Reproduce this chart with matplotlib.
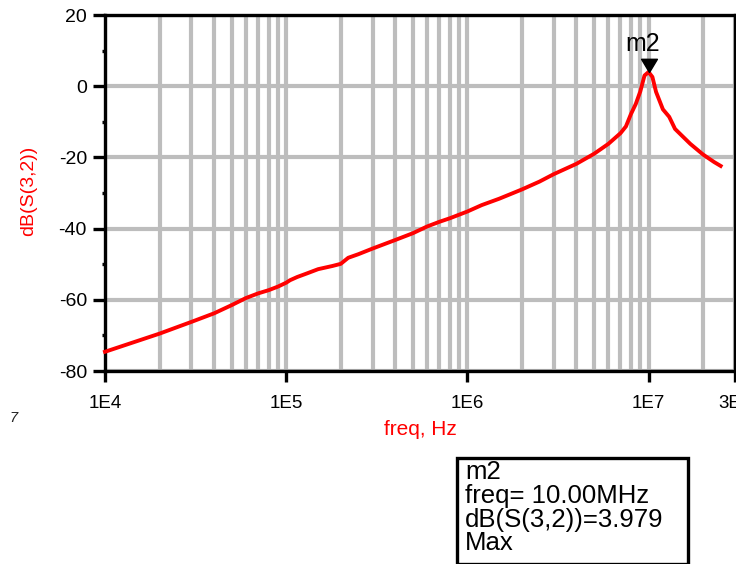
import matplotlib
matplotlib.use("Agg")
import matplotlib.pyplot as plt
from matplotlib.ticker import FixedLocator, LogLocator, NullFormatter, MultipleLocator
from matplotlib.patches import Rectangle
from matplotlib.path import Path

plt.rcParams['font.family'] = ['Liberation Sans', 'DejaVu Sans']
plt.rcParams['axes.unicode_minus'] = False

# S(3,2) magnitude sweep
freq_hz = [1e4, 2e4, 3e4, 4e4, 5e4, 6e4, 7e4, 8e4, 9e4, 1e5, 1.05e5, 1.15e5,
           1.3e5, 1.5e5, 1.8e5, 2e5, 2.2e5, 2.5e5, 3e5, 4e5, 5e5, 6e5, 7e5,
           8e5, 1e6, 1.2e6, 1.5e6, 2e6, 2.5e6, 3e6, 4e6, 5e6, 6e6, 7e6,
           7.5e6, 8e6, 8.5e6, 9e6, 9.5e6, 1e7, 1.05e7, 1.1e7, 1.2e7, 1.3e7,
           1.4e7, 1.5e7, 1.7e7, 2e7, 2.3e7, 2.5e7]
s32_db = [-74.6, -69.5, -66.2, -63.8, -61.5, -59.5, -58.2, -57.3, -56.3, -55.2,
          -54.5, -53.6, -52.6, -51.4, -50.5, -49.9, -48.2, -47.2, -45.6, -43.2,
          -41.3, -39.4, -38.1, -37.1, -35.2, -33.4, -31.6, -29.0, -26.8, -24.7,
          -21.8, -19.0, -16.2, -13.2, -11.3, -7.8, -5.0, -1.5, 3.0, 3.979,
          2.6, -1.6, -6.5, -8.6, -12.0, -13.5, -16.2, -19.2, -21.3, -22.4]

x_ticks = [1e4, 1e5, 1e6, 1e7, 3e7]
x_ticklabels = ["1E4", "1E5", "1E6", "1E7", "3E7"]
y_ticks = [-80, -60, -40, -20, 0, 20]

marker_name = "m2"
marker_freq = 1e7
marker_db = 3.979
marker_lines = ["m2", "freq= 10.00MHz", "dB(S(3,2))=3.979", "Max"]

W, H = 736, 564
fig = plt.figure(figsize=(W / 100, H / 100), dpi=100)
ax = fig.add_axes([105 / W, (H - 371) / H, (735 - 105) / W, (371 - 15) / H])

grid_c = "#bdbdbd"
ax.set_xscale("log")
ax.set_xlim(1e4, 3e7)
ax.set_ylim(-80, 20)

ax.xaxis.set_major_locator(FixedLocator(x_ticks))
ax.set_xticklabels(x_ticklabels)
ax.xaxis.set_minor_locator(LogLocator(base=10, subs=[2, 3, 4, 5, 6, 7, 8, 9], numticks=20))
ax.xaxis.set_minor_formatter(NullFormatter())
ax.yaxis.set_major_locator(FixedLocator(y_ticks))
ax.yaxis.set_minor_locator(MultipleLocator(10))

ax.grid(True, which="both", axis="x", color=grid_c, lw=3.0)
ax.grid(True, which="major", axis="y", color=grid_c, lw=3.0)
ax.set_axisbelow(True)

for s in ax.spines.values():
    s.set_linewidth(2.4)
    s.set_color("black")

ax.tick_params(axis="x", which="major", direction="out", length=8, width=2.4,
               labelsize=13.5, pad=9)
ax.tick_params(axis="x", which="minor", length=0)
ax.tick_params(axis="y", which="major", direction="out", length=9, width=2.4,
               labelsize=14, pad=4)
ax.tick_params(axis="y", which="minor", direction="out", length=2.5, width=2.4)

ax.plot(freq_hz, s32_db, color="#ff0000", lw=2.8, solid_joinstyle="round",
        zorder=3, clip_on=False)

# peak marker: downward triangle with its tip on the trace
tri = Path([(-0.6, 1.0), (0.6, 1.0), (0.0, 0.0), (-0.6, 1.0)],
           [Path.MOVETO, Path.LINETO, Path.LINETO, Path.CLOSEPOLY])
ax.plot([marker_freq], [marker_db], marker=tri, markersize=19, color="black",
        linestyle="none", zorder=4, clip_on=False)
ax.annotate(marker_name, (marker_freq, marker_db), xytext=(-4, 20),
            textcoords="offset points", ha="center", va="center",
            fontsize=18, color="black")

ax.set_ylabel("dB(S(3,2))", color="#ff0000", fontsize=14)
ax.yaxis.set_label_coords((37 - 105) / (735 - 105), 0.505)
ax.set_xlabel("freq, Hz", color="#ff0000", fontsize=15)
ax.xaxis.set_label_coords(0.5, -(420 - 371) / (371 - 15))

fig.text(14 / W, 1 - 418 / H, "7", fontsize=10.5, fontstyle="italic",
         color="#222222", ha="center", va="center")

# marker readout box
fig.patches.append(Rectangle((457 / W, 0), (688 - 457) / W, (H - 458) / H,
                             transform=fig.transFigure, fill=False,
                             edgecolor="black", lw=2.4, clip_on=False))
baselines = [479, 503, 527, 550]
for txt, yb in zip(marker_lines, baselines):
    fig.text(465 / W, 1 - yb / H, txt, fontsize=18.5, color="black",
             ha="left", va="baseline")

fig.savefig("out.png", dpi=100)
